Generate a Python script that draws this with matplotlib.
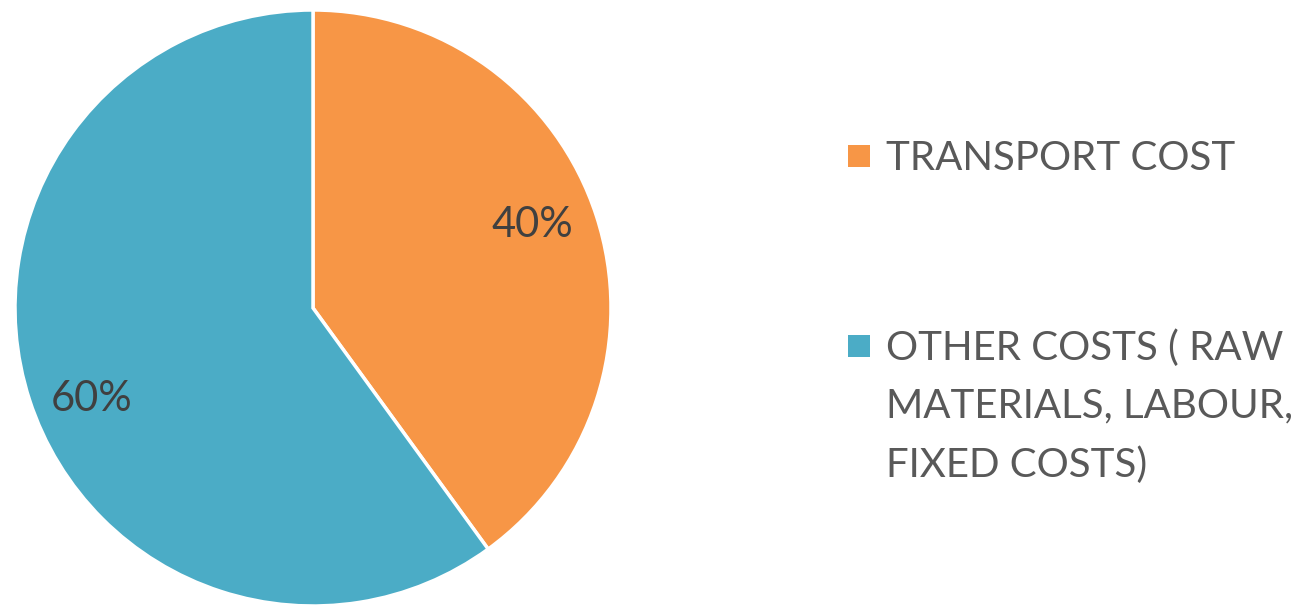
import matplotlib
matplotlib.use('Agg')
import matplotlib.pyplot as plt
from matplotlib.patches import Rectangle

# Data
categories = ['TRANSPORT COST', 'OTHER COSTS ( RAW\nMATERIALS, LABOUR,\nFIXED COSTS)']
shares = [40, 60]
colors = ['#F79646', '#4BACC6']
text_color = '#595959'

plt.rcParams['font.family'] = ['Lato', 'DejaVu Sans']

fig = plt.figure(figsize=(13.11, 6.05), dpi=100)
W, H = 1311, 605

# Pie placed to match the reference (centre ~ (313, 308) px, radius ~298 px)
cx, cy, r = 313, H - 308, 298
ax = fig.add_axes([(cx - r) / W, (cy - r) / H, 2 * r / W, 2 * r / H])
wedges, texts, autotexts = ax.pie(
    shares, colors=colors, startangle=90, counterclock=False,
    autopct='%d%%', pctdistance=0.79,
    wedgeprops=dict(edgecolor='white', linewidth=2.5),
    textprops=dict(color='#404040', fontsize=30),
)
ax.set_xlim(-1.0, 1.0)
ax.set_ylim(-1.0, 1.0)
ax.set_aspect('equal')

# Excel puts the data labels slightly off the wedge mid-angle
label_pos = [(0.735, 0.279), (-0.742, -0.305)]
for t, p in zip(autotexts, label_pos):
    t.set_position(p)

# Legend drawn by hand so the marker sits on the first line of the label
first_base = [170, 360]   # pixel row of the first line's baseline
line_h = 58.5
for cat, col, base in zip(categories, colors, first_base):
    n = cat.count('\n')
    fig.patches.append(Rectangle((848 / W, (H - base + 3) / H), 22 / W, 22 / H,
                                 transform=fig.transFigure, facecolor=col,
                                 edgecolor='none'))
    # va='baseline' aligns the last line, so shift by the extra lines
    fig.text(886 / W, (H - base - n * line_h) / H, cat, ha='left',
             va='baseline', fontsize=29, color=text_color, linespacing=1.7)

fig.savefig('out.png', dpi=100)
